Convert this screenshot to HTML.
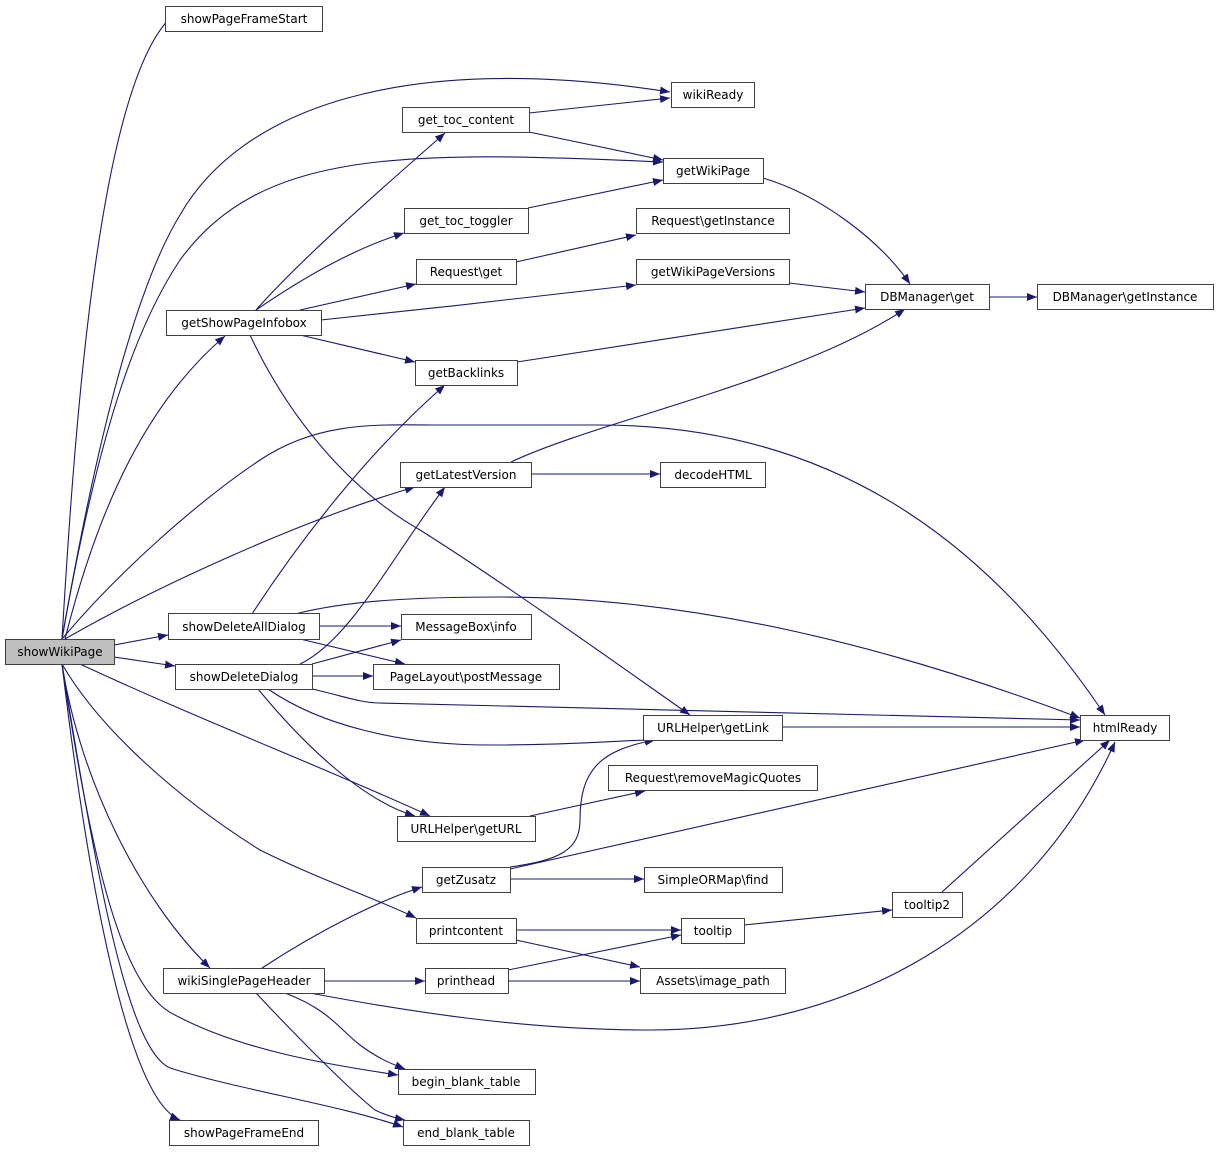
<!DOCTYPE html>
<html><head><meta charset="utf-8"><style>
body{margin:0;background:#fff;width:1219px;height:1152px;overflow:hidden}
svg text{font-family:"DejaVu Sans","Liberation Sans",sans-serif;font-size:12px;fill:#000}
</style></head><body>
<svg width="1219" height="1152" xmlns="http://www.w3.org/2000/svg">
<defs><marker id="a" markerWidth="10" markerHeight="8" refX="10" refY="4" orient="auto" markerUnits="userSpaceOnUse"><path d="M0,0 L10,4 L0,8 z" fill="#191970"/></marker></defs>
<g fill="none" stroke="#191970" stroke-width="1.1" marker-end="url(#a)">
<path d="M62,639 C75,420 100,60 180,10"/>
<path d="M62,639 C100,420 140,280 180,215 C240,110 400,50 670,92"/>
<path d="M62,639 C100,420 140,320 180,260 C260,150 400,150 663,162"/>
<path d="M65,639 C100,500 150,400 225,336"/>
<path d="M62,639 C120,570 200,500 260,460 C320,420 380,425 440,425 L600,425 C850,425 1000,560 1105,715"/>
<path d="M65,639 C150,590 300,520 415,487"/>
<path d="M114,645 L168,635"/>
<path d="M114,657 L175,666"/>
<path d="M80,664 C200,720 330,770 430,816"/>
<path d="M62,664 C100,730 180,800 260,850 C320,880 380,900 416,918"/>
<path d="M62,664 C80,780 140,900 210,968"/>
<path d="M62,664 C90,850 120,990 175,1015 C240,1050 330,1065 398,1075"/>
<path d="M62,664 C100,900 130,1050 170,1068 C240,1090 340,1105 403,1127"/>
<path d="M62,664 C90,900 130,1100 180,1120"/>
<path d="M529,113 L670,98"/>
<path d="M529,132 L663,160"/>
<path d="M528,208 L663,180"/>
<path d="M763,178 C820,195 880,240 910,284"/>
<path d="M516,262 L636,235"/>
<path d="M789,283 L865,292"/>
<path d="M989,297 L1037,297"/>
<path d="M256,310 C300,260 380,190 445,133"/>
<path d="M256,310 C300,280 350,250 404,233"/>
<path d="M300,310 L416,284"/>
<path d="M321,320 C420,310 550,295 636,285"/>
<path d="M300,335 L415,362"/>
<path d="M250,335 C290,420 350,490 420,530 C500,580 640,680 690,715"/>
<path d="M517,362 L865,308"/>
<path d="M511,462 C600,420 800,380 905,309"/>
<path d="M531,474 L660,474"/>
<path d="M252,614 C300,540 370,450 445,385"/>
<path d="M318,626 L401,626"/>
<path d="M295,614 C350,600 420,597 500,597 C700,597 900,650 1080,718"/>
<path d="M300,639 L405,664"/>
<path d="M300,664 C350,640 390,560 445,487"/>
<path d="M312,664 L401,640"/>
<path d="M312,676 L373,676"/>
<path d="M312,689 C340,695 360,703 380,703 L1080,720"/>
<path d="M268,689 C320,725 400,745 490,745 C580,745 620,740 655,740"/>
<path d="M258,689 C300,740 360,800 415,816"/>
<path d="M782,727 L1080,727"/>
<path d="M530,816 L645,791"/>
<path d="M510,867 C560,860 580,850 580,820 C580,770 600,750 655,740"/>
<path d="M510,869 L1085,740"/>
<path d="M510,879 L644,879"/>
<path d="M942,892 L1110,740"/>
<path d="M516,930 L681,930"/>
<path d="M516,940 L640,967"/>
<path d="M744,925 L892,910"/>
<path d="M262,968 C320,930 380,900 422,887"/>
<path d="M324,981 L425,981"/>
<path d="M310,993 C400,1010 520,1030 650,1030 C850,1030 1030,930 1115,742"/>
<path d="M285,993 C330,1010 340,1030 360,1045 C380,1060 395,1065 405,1069"/>
<path d="M256,993 C300,1040 350,1090 375,1110 C385,1115 395,1118 405,1120"/>
<path d="M508,970 L681,935"/>
<path d="M508,981 L640,981"/>
</g>
<g stroke="#404040" stroke-width="1" fill="#fff">
<rect x="5.5" y="639.5" width="109" height="25" fill="#bfbfbf"/>
<rect x="165.5" y="6.5" width="157" height="25"/>
<rect x="671.5" y="82.5" width="83" height="25"/>
<rect x="402.5" y="107.5" width="127" height="25"/>
<rect x="663.5" y="158.5" width="100" height="25"/>
<rect x="404.5" y="208.5" width="124" height="25"/>
<rect x="636.5" y="208.5" width="153" height="25"/>
<rect x="416.5" y="259.5" width="100" height="25"/>
<rect x="636.5" y="259.5" width="153" height="25"/>
<rect x="865.5" y="284.5" width="124" height="25"/>
<rect x="1037.5" y="284.5" width="176" height="25"/>
<rect x="166.5" y="310.5" width="155" height="25"/>
<rect x="415.5" y="360.5" width="102" height="25"/>
<rect x="400.5" y="462.5" width="131" height="25"/>
<rect x="660.5" y="462.5" width="105" height="25"/>
<rect x="168.5" y="613.5" width="151" height="26"/>
<rect x="401.5" y="614.5" width="130" height="25"/>
<rect x="175.5" y="664.5" width="137" height="25"/>
<rect x="373.5" y="664.5" width="186" height="25"/>
<rect x="643.5" y="715.5" width="139" height="25"/>
<rect x="1080.5" y="715.5" width="89" height="25"/>
<rect x="608.5" y="765.5" width="209" height="25"/>
<rect x="397.5" y="816.5" width="138" height="25"/>
<rect x="422.5" y="867.5" width="88" height="25"/>
<rect x="644.5" y="867.5" width="138" height="25"/>
<rect x="892.5" y="892.5" width="70" height="25"/>
<rect x="416.5" y="918.5" width="100" height="25"/>
<rect x="681.5" y="918.5" width="63" height="25"/>
<rect x="163.5" y="968.5" width="161" height="25"/>
<rect x="425.5" y="968.5" width="83" height="25"/>
<rect x="640.5" y="968.5" width="145" height="25"/>
<rect x="398.5" y="1069.5" width="137" height="25"/>
<rect x="169.5" y="1120.5" width="149" height="25"/>
<rect x="403.5" y="1120.5" width="126" height="25"/>
</g>
<g text-anchor="middle">
<text x="60" y="656">showWikiPage</text>
<text x="244" y="23">showPageFrameStart</text>
<text x="713" y="99">wikiReady</text>
<text x="466" y="124">get_toc_content</text>
<text x="713" y="175">getWikiPage</text>
<text x="466" y="225">get_toc_toggler</text>
<text x="713" y="225">Request\getInstance</text>
<text x="466" y="276">Request\get</text>
<text x="713" y="276">getWikiPageVersions</text>
<text x="927" y="301">DBManager\get</text>
<text x="1125" y="301">DBManager\getInstance</text>
<text x="244" y="327">getShowPageInfobox</text>
<text x="466" y="377">getBacklinks</text>
<text x="466" y="479">getLatestVersion</text>
<text x="713" y="479">decodeHTML</text>
<text x="244" y="631">showDeleteAllDialog</text>
<text x="466" y="631">MessageBox\info</text>
<text x="244" y="681">showDeleteDialog</text>
<text x="466" y="681">PageLayout\postMessage</text>
<text x="713" y="732">URLHelper\getLink</text>
<text x="1125" y="732">htmlReady</text>
<text x="713" y="782">Request\removeMagicQuotes</text>
<text x="466" y="833">URLHelper\getURL</text>
<text x="466" y="884">getZusatz</text>
<text x="713" y="884">SimpleORMap\find</text>
<text x="927" y="909">tooltip2</text>
<text x="466" y="935">printcontent</text>
<text x="713" y="935">tooltip</text>
<text x="244" y="985">wikiSinglePageHeader</text>
<text x="466" y="985">printhead</text>
<text x="713" y="985">Assets\image_path</text>
<text x="466" y="1086">begin_blank_table</text>
<text x="244" y="1137">showPageFrameEnd</text>
<text x="466" y="1137">end_blank_table</text>
</g>
</svg>
</body></html>
